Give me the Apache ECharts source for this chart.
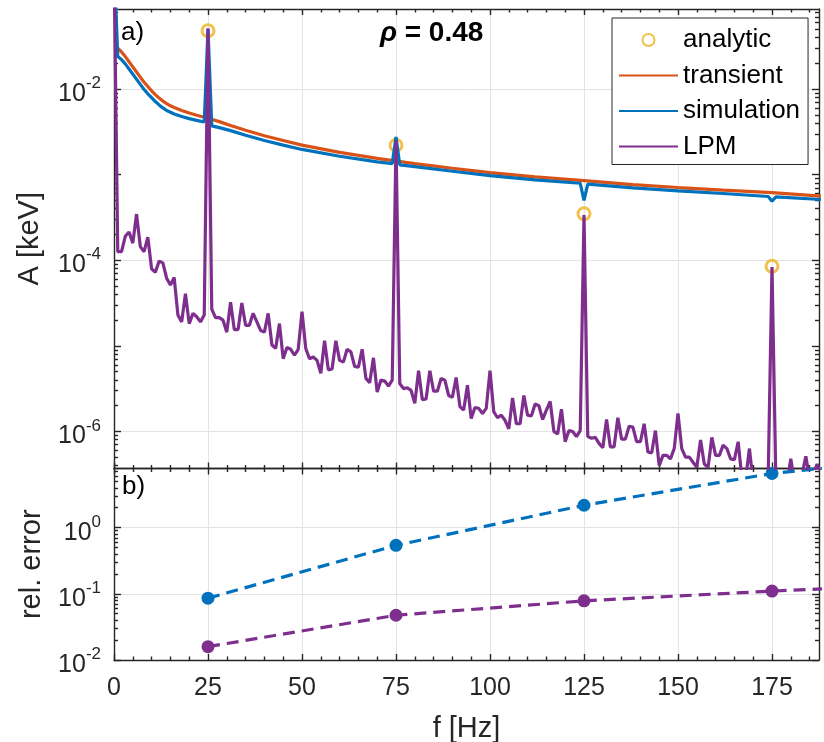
<!DOCTYPE html>
<html><head><meta charset="utf-8">
<script src="https://cdn.jsdelivr.net/npm/echarts@6/dist/echarts.min.js"></script>
<style>html,body{margin:0;padding:0;background:#fff}#c{width:824px;height:742px}</style>
</head><body><div id="c"></div>
<script>
// ---------------- data ----------------
// panel a) : amplitudes; long series kept as log10(A / keV)
const analyticF = [25, 75, 125, 175];
const analyticA = [0.048, 2.21e-3, 3.5e-4, 8.5e-5];

const transientF = [1, 2, 3, 4, 5, 6, 7, 8, 9, 10, 11, 12, 13, 14, 15, 16, 18, 20, 22, 25, 28, 31, 35, 40, 45, 50, 60, 70, 80, 90, 100, 112, 125, 138, 150, 162, 175, 188];
const transientLog = [-1.52, -1.565, -1.62, -1.68, -1.74, -1.80, -1.86, -1.92, -1.97, -2.02, -2.065, -2.105, -2.14, -2.17, -2.195, -2.215, -2.25, -2.28, -2.305, -2.34, -2.38, -2.425, -2.48, -2.545, -2.60, -2.655, -2.74, -2.81, -2.87, -2.925, -2.975, -3.025, -3.07, -3.115, -3.15, -3.18, -3.21, -3.25];

const simF = [0, 1, 2, 3, 4, 5, 6, 7, 8, 9, 10, 11, 12, 13, 14, 15, 16, 18, 20, 22, 24, 25, 26, 28, 31, 35, 40, 45, 50, 60, 70, 74, 75, 76, 80, 90, 100, 112, 124, 125, 126, 138, 150, 162, 174, 175, 176, 188];
const simLog = [-0.5, -1.62, -1.655, -1.705, -1.765, -1.825, -1.885, -1.945, -2.005, -2.055, -2.10, -2.145, -2.185, -2.22, -2.25, -2.27, -2.29, -2.32, -2.345, -2.365, -2.385, -1.30, -2.43, -2.45, -2.485, -2.54, -2.60, -2.655, -2.705, -2.785, -2.85, -2.87, -2.56, -2.885, -2.905, -2.96, -3.01, -3.06, -3.10, -3.30, -3.11, -3.155, -3.19, -3.22, -3.255, -3.31, -3.26, -3.29];

// LPM on a 1 Hz frequency grid, f = 0 ... 188 Hz
const lpmLog = [
  -0.50, -3.90, -3.90, -3.72, -3.67, -3.80, -3.46, -3.84, -3.90, -3.73,
  -4.10, -4.14, -4.01, -4.03, -4.21, -4.29, -4.20, -4.64, -4.72, -4.39,
  -4.74, -4.62, -4.66, -4.72, -4.64, -1.29, -4.57, -4.67, -4.67, -4.70,
  -4.84, -4.49, -4.81, -4.81, -4.50, -4.76, -4.76, -4.62, -4.72, -4.82,
  -4.84, -4.62, -4.99, -5.03, -4.74, -5.15, -5.02, -5.04, -5.11, -5.04,
  -4.60, -5.03, -5.15, -5.13, -5.17, -5.32, -4.94, -5.28, -5.27, -4.94,
  -5.17, -5.19, -5.04, -5.07, -5.24, -5.25, -5.04, -5.38, -5.43, -5.14,
  -5.54, -5.40, -5.41, -5.47, -5.40, -2.60, -5.44, -5.50, -5.49, -5.52,
  -5.67, -5.29, -5.63, -5.62, -5.29, -5.53, -5.53, -5.38, -5.40, -5.58,
  -5.60, -5.37, -5.71, -5.75, -5.46, -5.85, -5.72, -5.73, -5.79, -5.73,
  -5.29, -5.77, -5.84, -5.81, -5.87, -5.97, -5.61, -5.91, -5.91, -5.58,
  -5.81, -5.82, -5.68, -5.70, -5.86, -5.75, -5.65, -6.00, -6.03, -5.74,
  -6.12, -5.99, -6.00, -6.06, -5.99, -3.47, -6.06, -6.08, -6.07, -6.14,
  -6.19, -5.86, -6.18, -6.18, -5.84, -6.09, -6.09, -5.94, -5.95, -6.12,
  -6.12, -5.91, -6.24, -6.25, -5.99, -6.40, -6.28, -6.28, -6.32, -6.20,
  -5.79, -6.20, -6.30, -6.30, -6.36, -6.42, -6.10, -6.38, -6.42, -6.07,
  -6.28, -6.28, -6.16, -6.20, -6.32, -6.33, -6.12, -6.55, -6.55, -6.20,
  -6.60, -6.50, -6.50, -6.55, -6.50, -4.08, -6.50, -6.55, -6.55, -6.60,
  -6.32, -6.60, -6.60, -6.50, -6.29, -6.55, -6.50, -6.38, -6.50
];
const lpmF = lpmLog.map((_, i) => i);

// panel b) : relative errors (last point lies beyond the visible range)
const relF = [25, 75, 125, 175, 225];
const relErrSim = [0.086, 0.54, 2.18, 6.58, 13.2];
const relErrLpm = [0.0159, 0.0475, 0.0783, 0.110, 0.146];

// tick labels
const xTickLabels = [0, 25, 50, 75, 100, 125, 150, 175];
const yTickExpA = [-6, -4, -2];
const yTickExpB = [-2, -1, 0];

// ---------------- chart ----------------
const FONT = '"Liberation Sans", Arial, Helvetica, sans-serif';
const AX = '#262626';
const GRIDC = '#e4e4e4';
const XMAX = 187.5;
const A_MIN = -6.433, A_MAX = -1.064;
const B_MIN = -2, B_MAX = 0.894;
const LW = 3.2;

const xMinor = [];
for (let f = 5; f < XMAX; f += 5) if (f % 25 !== 0) xMinor.push(f);
function logMinor(lo, hi) {
  const out = [];
  for (let n = Math.floor(lo); n <= Math.ceil(hi); n++)
    for (let k = 2; k <= 9; k++) { const v = n + Math.log10(k); if (v > lo && v < hi) out.push(v); }
  return out;
}
const lineSt = { color: AX, width: 1.4 };
const supRich = {
  b: { fontSize: 25, fontFamily: FONT, color: AX, padding: [10, 0, 0, 0] },
  s: { fontSize: 17, fontFamily: FONT, color: AX, padding: [0, 0, 11, 0] }
};
const nameStyle = { fontSize: 29, fontFamily: FONT, color: AX };

function xAxisDef(g, pos, ticks, len, o) {
  o = o || {};
  return Object.assign({
    type: 'value', gridIndex: g, position: pos, min: 0, max: XMAX,
    axisLine: { show: !!o.line, onZero: false, lineStyle: lineSt },
    axisTick: { show: true, inside: true, length: len, customValues: ticks, lineStyle: lineSt },
    axisLabel: { show: false },
    splitLine: { show: !!o.split, lineStyle: { color: GRIDC, width: 1 } }
  }, o.extra || {});
}
function yAxisDef(g, pos, mn, mx, ticks, len, o) {
  o = o || {};
  return Object.assign({
    type: 'value', gridIndex: g, position: pos, min: mn, max: mx,
    axisLine: { show: !!o.line, onZero: false, lineStyle: lineSt },
    axisTick: { show: true, inside: true, length: len, customValues: ticks, lineStyle: lineSt },
    axisLabel: { show: false },
    splitLine: { show: !!o.split, lineStyle: { color: GRIDC, width: 1 } }
  }, o.extra || {});
}

const xAxes = [];
for (let g = 0; g < 2; g++) {
  const extra = g === 1 ? {
    axisLabel: { show: true, customValues: xTickLabels, margin: 16, fontSize: 25, fontFamily: FONT, color: AX },
    name: 'f [Hz]', nameLocation: 'middle', nameGap: 54, nameTextStyle: nameStyle
  } : {};
  xAxes.push(xAxisDef(g, 'bottom', xTickLabels, 6, { line: true, split: true, extra }));
  xAxes.push(xAxisDef(g, 'bottom', xMinor, 3.5));
  xAxes.push(xAxisDef(g, 'top', xTickLabels, 6, { line: true }));
  xAxes.push(xAxisDef(g, 'top', xMinor, 3.5));
}
const supFmt = v => '{b|10}{s|' + Math.round(v) + '}';
const yAxes = [
  // grid 0
  yAxisDef(0, 'left', A_MIN, A_MAX, yTickExpA, 7, { line: true, split: true, extra: {
    axisLabel: { show: true, customValues: yTickExpA, formatter: supFmt, rich: supRich, margin: 13 },
    name: 'A [keV]', nameLocation: 'middle', nameGap: 70, nameTextStyle: nameStyle } }),
  yAxisDef(0, 'left', A_MIN, A_MAX, [-5, -3], 7),
  yAxisDef(0, 'left', A_MIN, A_MAX, logMinor(A_MIN, A_MAX), 4),
  yAxisDef(0, 'right', A_MIN, A_MAX, [-6, -5, -4, -3, -2], 7, { line: true }),
  yAxisDef(0, 'right', A_MIN, A_MAX, logMinor(A_MIN, A_MAX), 4),
  // grid 1
  yAxisDef(1, 'left', B_MIN, B_MAX, yTickExpB, 7, { line: true, split: true, extra: {
    axisLabel: { show: true, customValues: yTickExpB, formatter: supFmt, rich: supRich, margin: 13 },
    name: 'rel. error', nameLocation: 'middle', nameGap: 68, nameTextStyle: nameStyle } }),
  yAxisDef(1, 'left', B_MIN, B_MAX, logMinor(B_MIN, B_MAX), 4),
  yAxisDef(1, 'right', B_MIN, B_MAX, yTickExpB, 7, { line: true }),
  yAxisDef(1, 'right', B_MIN, B_MAX, logMinor(B_MIN, B_MAX), 4)
];

const pair = (fs, ys) => fs.map((f, i) => [f, ys[i]]);
const pairLog = (fs, vs) => fs.map((f, i) => [f, Math.log10(vs[i])]);

const option = {
  backgroundColor: '#fff',
  animation: false,
  grid: [
    { left: 114, top: 9, width: 705, height: 459.5, containLabel: false, outerBoundsMode: 'none' },
    { left: 114, top: 468.5, width: 705, height: 191.5, containLabel: false, outerBoundsMode: 'none' }
  ],
  xAxis: xAxes,
  yAxis: yAxes,
  legend: {
    data: [
      { name: 'analytic' },
      { name: 'transient', itemStyle: { opacity: 0 } },
      { name: 'simulation', itemStyle: { opacity: 0 } },
      { name: 'LPM', itemStyle: { opacity: 0 } }
    ],
    orient: 'vertical', left: 612, top: 18,
    padding: [9, 8, 5, 6], itemGap: 9.5, itemWidth: 59, itemHeight: 12,
    textStyle: { fontSize: 26, fontFamily: FONT, color: '#000' },
    borderColor: AX, borderWidth: 1, borderRadius: 0, backgroundColor: '#fff',
    selectedMode: false
  },
  graphic: [
    { type: 'text', x: 121, y: 33, style: { text: 'a)', fontSize: 26, fontFamily: FONT, fill: '#000', verticalAlign: 'middle' }, z: 100 },
    { type: 'text', x: 122, y: 487, style: { text: 'b)', fontSize: 26, fontFamily: FONT, fill: '#000', verticalAlign: 'middle' }, z: 100 },
    { type: 'text', x: 380, y: 33, z: 100, style: {
      text: '{r|ρ}{n| = 0.48}', verticalAlign: 'middle', fill: '#000',
      rich: { r: { fontSize: 28, fontFamily: FONT, fontWeight: 'bold', fontStyle: 'italic' },
              n: { fontSize: 28, fontFamily: FONT, fontWeight: 'bold' } } } }
  ],
  series: [
    { name: 'analytic', type: 'scatter', xAxisIndex: 0, yAxisIndex: 0,
      data: pairLog(analyticF, analyticA), symbol: 'circle', symbolSize: 12,
      itemStyle: { color: 'rgba(255,255,255,0)', borderColor: '#EDB120', borderWidth: 3 }, z: 2 },
    { name: 'transient', type: 'line', xAxisIndex: 0, yAxisIndex: 0,
      data: pair(transientF, transientLog), symbol: 'none',
      lineStyle: { color: '#D95319', width: LW }, itemStyle: { color: '#D95319' }, z: 3 },
    { name: 'simulation', type: 'line', xAxisIndex: 0, yAxisIndex: 0,
      data: pair(simF, simLog), symbol: 'none',
      lineStyle: { color: '#0072BD', width: LW }, itemStyle: { color: '#0072BD' }, z: 4 },
    { name: 'LPM', type: 'line', xAxisIndex: 0, yAxisIndex: 0,
      data: pair(lpmF, lpmLog), symbol: 'none',
      lineStyle: { color: '#7E2F8E', width: LW }, itemStyle: { color: '#7E2F8E' }, z: 5 },
    { name: 'relSim', type: 'line', xAxisIndex: 4, yAxisIndex: 5,
      data: pairLog(relF, relErrSim), symbol: 'circle', symbolSize: 13, showSymbol: true,
      lineStyle: { color: '#0072BD', width: LW, type: [12, 7] }, itemStyle: { color: '#0072BD' }, z: 4 },
    { name: 'relLpm', type: 'line', xAxisIndex: 4, yAxisIndex: 5,
      data: pairLog(relF, relErrLpm), symbol: 'circle', symbolSize: 13, showSymbol: true,
      lineStyle: { color: '#7E2F8E', width: LW, type: [12, 7] }, itemStyle: { color: '#7E2F8E' }, z: 5 }
  ]
};
const chart = echarts.init(document.getElementById('c'), null, { renderer: 'canvas' });
chart.setOption(option);
</script></body></html>
